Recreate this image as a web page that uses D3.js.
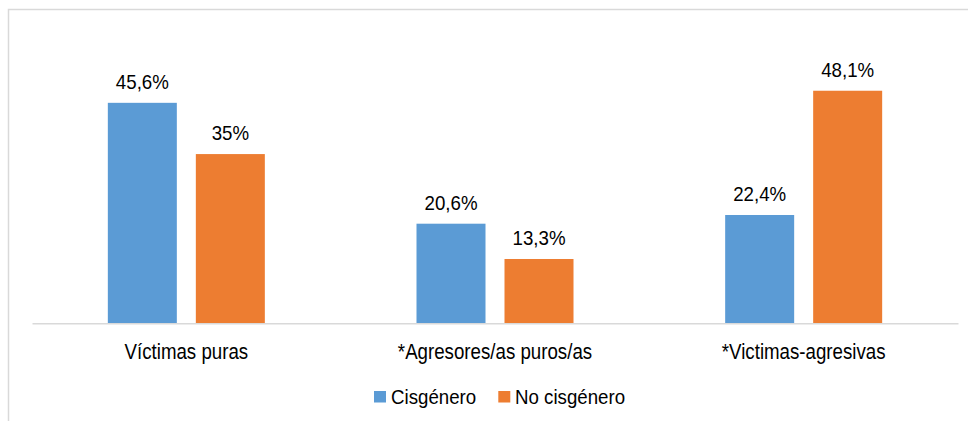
<!DOCTYPE html>
<html><head><meta charset="utf-8">
<script src="https://cdn.jsdelivr.net/npm/d3@7"></script>
<style>body{margin:0;background:#fff}svg{display:block}text{font-family:"Liberation Sans",Arial,sans-serif;fill:#000}</style>
</head><body><svg id="c" width="968" height="421"></svg>
<script>
const categories = ["Víctimas puras", "*Agresores/as puros/as", "*Victimas-agresivas"];
const seriesNames = ["Cisgénero", "No cisgénero"];
const cisgenero = [45.6, 20.6, 22.4];
const noCisgenero = [35, 13.3, 48.1];
const valueLabels = [["45,6%", "20,6%", "22,4%"], ["35%", "13,3%", "48,1%"]];
const colors = ["#5B9BD5", "#ED7D31"];

const seriesValues = [cisgenero, noCisgenero];
const svg = d3.select("#c");
const W = 968, H = 421;
const FS = 18.7;

// outer border
svg.append("rect").attr("x", 8.5).attr("y", 9.5).attr("width", W + 10).attr("height", H + 10)
  .attr("fill", "none").attr("stroke", "#d9d9d9").attr("stroke-width", 1.5);

const left = 32, right = 958, baseY = 323.3;
const x0 = d3.scaleBand().domain(categories).range([left, right]).padding(0);
const bw = x0.bandwidth();
const groupW = 157;
const outer = (bw - groupW) / 2;
const x1 = d3.scaleBand().domain(seriesNames).range([outer, bw - outer]).paddingInner(19 / 88).paddingOuter(0);
const y = d3.scaleLinear().domain([0, 50]).range([baseY, baseY - 4.835 * 50]);

function stretched(parent, tx, ty, k, anchor, str) {
  return parent.append("text")
    .attr("transform", `translate(${tx},${ty}) scale(1,${k})`)
    .attr("text-anchor", anchor).attr("font-size", FS).text(str);
}

const g = svg.append("g");
categories.forEach((c, ci) => {
  seriesNames.forEach((s, si) => {
    const v = seriesValues[si][ci];
    const bx = x0(c) + x1(s);
    g.append("rect").attr("x", bx).attr("y", y(v)).attr("width", x1.bandwidth())
      .attr("height", baseY - y(v)).attr("fill", colors[si]);
    stretched(g, bx + x1.bandwidth() / 2, y(v) - 13.7, 1.08, "middle", valueLabels[si][ci]);
  });
});

// baseline axis
const xAxis = d3.axisBottom(x0).tickSize(0).tickPadding(0);
const ax = svg.append("g").attr("transform", `translate(0,${baseY})`).call(xAxis);
ax.select(".domain").attr("stroke", "#d9d9d9").attr("stroke-width", 1.5);
ax.selectAll(".tick text")
  .attr("y", null).attr("dy", null)
  .attr("transform", "translate(0,35.8) scale(1,1.15)")
  .attr("font-size", FS)
  .style("font-family", '"Liberation Sans",Arial,sans-serif').attr("fill", "#000");

// legend
const legend = [{x: 374, tx: 391}, {x: 498.3, tx: 515}];
seriesNames.forEach((s, i) => {
  svg.append("rect").attr("x", legend[i].x).attr("y", 391).attr("width", 12).attr("height", 11.5).attr("fill", colors[i]);
  stretched(svg, legend[i].tx, 404, 1.1, "start", s);
});
</script></body></html>
